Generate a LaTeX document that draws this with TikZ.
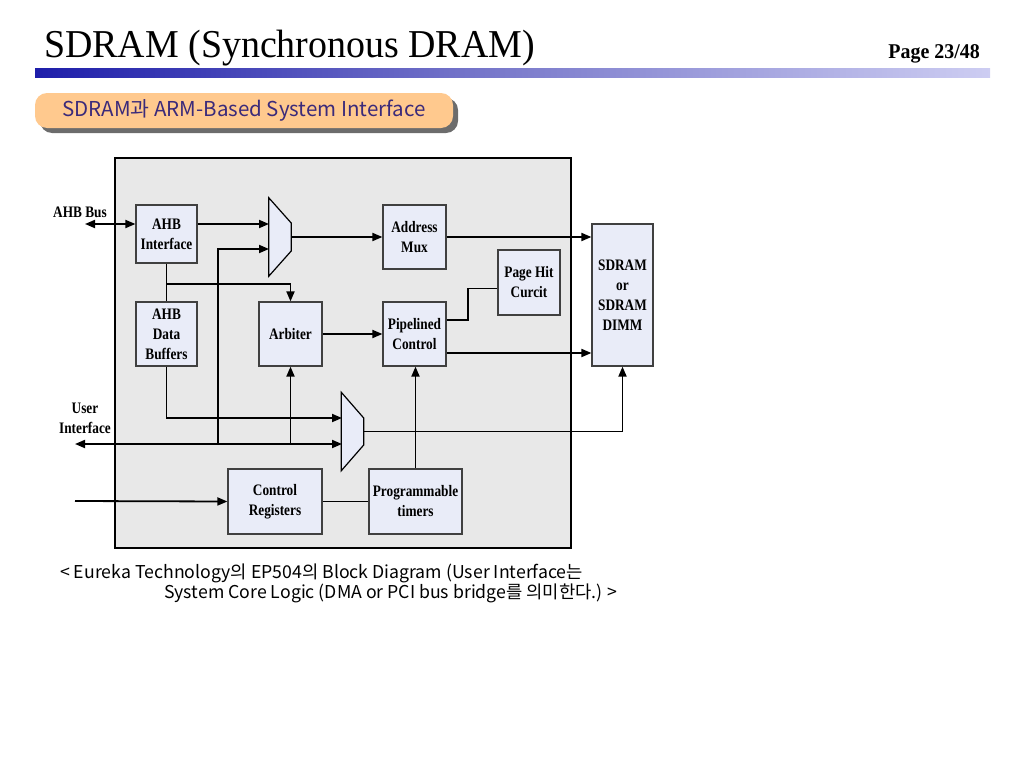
\documentclass[tikz,border=0pt]{standalone}
\usepackage{fontspec}
\setmainfont{Liberation Serif}
\newfontfamily\condserif{Liberation Serif}[FakeStretch=0.83]
\newfontfamily\pageserif{Liberation Serif}[FakeStretch=0.95]
\newfontfamily\titleserif{Liberation Serif}[FakeStretch=0.96]
\newfontfamily\krfont{Noto Sans CJK KR}
\usetikzlibrary{positioning,calc,arrows,arrows.meta}
\definecolor{lavbox}{HTML}{E9ECF8}
\definecolor{framegray}{HTML}{E8E8E8}
\definecolor{pillfill}{HTML}{FFC98E}
\definecolor{pilltext}{HTML}{3B2A7A}
\definecolor{barleft}{HTML}{1E1EAA}
\definecolor{barmid}{HTML}{7C7CCC}
\definecolor{barright}{HTML}{CDCDF2}

\begin{document}
\begin{tikzpicture}[x=1pt,y=-1pt,
    blk/.style={draw=black!75, fill=lavbox, line width=1.2pt, align=center,
        inner sep=0pt, font=\condserif\bfseries\fontsize{16}{20}\selectfont},
    lbl/.style={align=center, inner sep=0pt, font=\condserif\bfseries\fontsize{16}{20}\selectfont},
    muxbox/.style={draw=none, inner sep=0pt, minimum width=22, minimum height=78},
    wire/.style={line width=1.8pt},
    arr/.style={wire, -{Triangle[length=10pt,width=8pt]}},
    dblarr/.style={wire, {Triangle[length=10pt,width=8pt]}-{Triangle[length=10pt,width=8pt]}}
  ]
  \useasboundingbox (0,0) rectangle (1024,768);

  % heading
  \node[anchor=base west, inner sep=0pt, font=\titleserif\fontsize{39.5}{41}\selectfont] (title) at (44,58) {SDRAM (Synchronous DRAM)};
  \node[anchor=base east, inner sep=0pt, font=\pageserif\bfseries\fontsize{21}{23}\selectfont] (page) at (980,59) {Page 23/48};
  \shade[left color=barleft, right color=barright, middle color=barmid] (35,68) rectangle (990,77);

  \fill[gray!85!black, rounded corners=12] (40,98) rectangle (458,133);
  \node[fill=pillfill, rounded corners=12, minimum width=418, minimum height=35, inner sep=0pt,
        text=pilltext, font=\krfont\fontsize{20.5}{22}\selectfont] (topic) at (244,110.5) {SDRAM과 ARM-Based System Interface};

  % core frame
  \node[draw, line width=2pt, fill=framegray, minimum width=456, minimum height=390, inner sep=0pt] (core) at (343,353) {};

  % blocks
  \node[blk, minimum width=61, minimum height=58] (ahbif)  at (166.5,234) {AHB\\Interface};
  \node[blk, minimum width=61, minimum height=64] (ahbbuf) at (166.5,334) {AHB\\Data\\Buffers};
  \node[blk, minimum width=63, minimum height=64] (arb)    at (290.5,334) {Arbiter};
  \node[blk, minimum width=63, minimum height=64] (amux)   at (414.5,237) {Address\\Mux};
  \node[blk, minimum width=62, minimum height=65] (phit)   at (529,282.5) {Page Hit\\Curcit};
  \node[blk, minimum width=63, minimum height=64] (pctl)   at (414.5,334) {Pipelined\\Control};
  \node[blk, minimum width=61, minimum height=142] (sdram) at (622.5,295) {SDRAM\\or\\SDRAM\\DIMM};
  \node[blk, minimum width=94, minimum height=65] (creg)   at (275,501.5) {Control\\Registers};
  \node[blk, minimum width=93, minimum height=65] (ptim)   at (415.5,501.5) {Programmable\\timers};

  % multiplexers
  \node[muxbox] (mux1) at (280,237) {};
  \node[muxbox] (mux2) at (352.5,431.5) {};
  \foreach \m/\h in {mux1/14, mux2/13.5}
    \draw[line width=1.2pt, fill=lavbox] (\m.north west) -- ([yshift=\h pt]\m.east)
      -- ([yshift=-\h pt]\m.east) -- (\m.south west) -- cycle;

  \coordinate (m1a) at (269,224);
  \coordinate (m1b) at (269,249);
  \coordinate (m2a) at (342,418);
  \coordinate (m2b) at (342,444);
  \coordinate (ahbin) at (85,224);
  \coordinate (uiend) at (75,444);
  \coordinate (crin) at (75,501);
  \coordinate (j1) at (218,444);
  \coordinate (j2) at (166.5,284);

  % outside labels
  \node[lbl] (ahblbl) at (80,212) {AHB Bus};
  \node[lbl] (uilbl) at (85,418) {User\\Interface};

  % connections
  \draw[dblarr] (ahbin) -- (ahbin -| ahbif.west);
  \draw[arr] (m1a -| ahbif.east) -- (m1a);
  \draw[arr] (mux1.east) -- (amux.west);
  \draw[arr] (amux.east) -- (amux.east -| sdram.west);
  \draw[wire] (ahbif.south) -- (ahbbuf.north);
  \draw[arr] (j2) -| (arb.north);
  \draw[arr] (arb.east) -- (pctl.west);
  \draw[wire] ([yshift=14pt]pctl.east) -- ++(21,0) |- ([yshift=-6pt]phit.west);
  \draw[arr] ([yshift=-19pt]pctl.east) -- ([yshift=-19pt]pctl.east -| sdram.west);
  \draw[arr] (ahbbuf.south) |- (m2a);
  \draw[dblarr] (uiend) -- (m2b);
  \draw[arr] (j1) |- (m1b);
  \draw[arr] (arb.south |- uiend) -- (arb.south);
  \draw[arr] (mux2.east) -| (sdram.south);
  \draw[arr] (ptim.north) -- (ptim.north |- pctl.south);
  \draw[arr] (crin) -- (creg.west);
  \draw[wire] (creg.east) -- (ptim.west);

  % caption
  \node[anchor=base west, inner sep=0pt, font=\krfont\fontsize{17.7}{20}\selectfont] (cap1) at (60,578)
    {< Eureka Technology의 EP504의 Block Diagram (User Interface는};
  \node[anchor=base west, inner sep=0pt, font=\krfont\fontsize{17.7}{20}\selectfont] (cap2) at (164,598)
    {System Core Logic (DMA or PCI bus bridge를 의미한다.) >};
\end{tikzpicture}
\end{document}
